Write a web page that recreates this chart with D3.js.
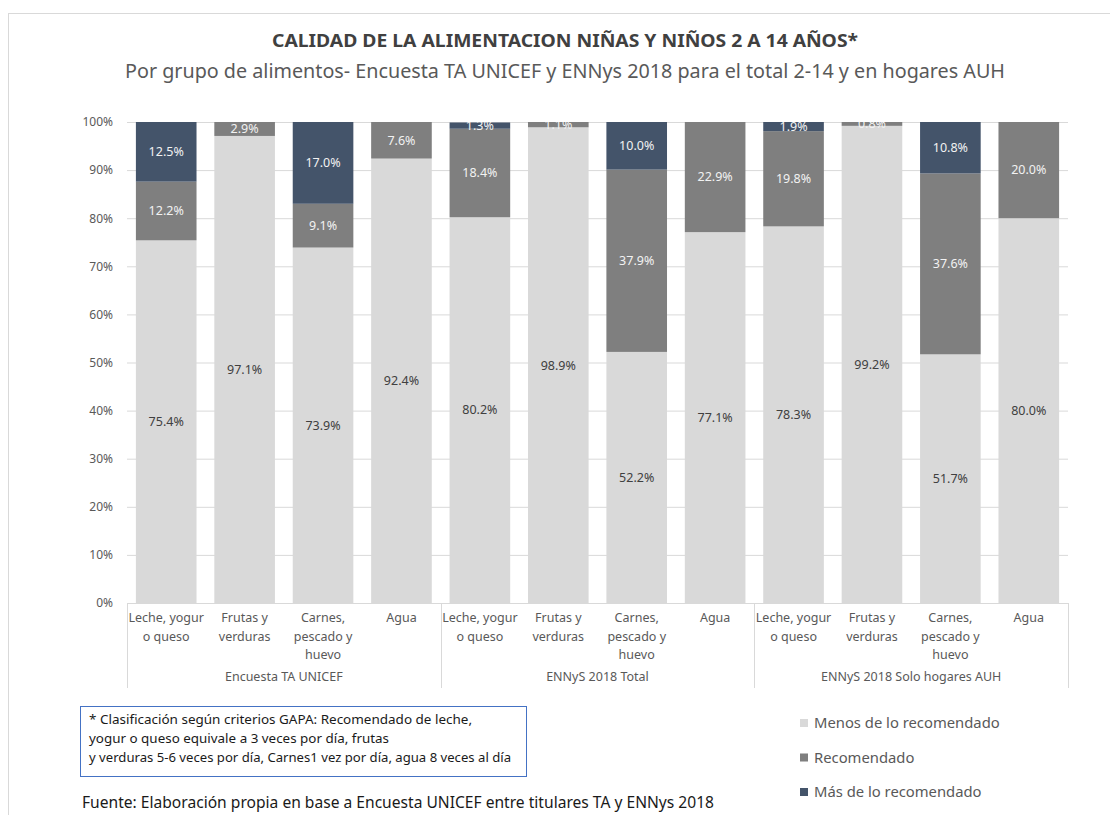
<!DOCTYPE html>
<html>
<head>
<meta charset="utf-8">
<script src="https://cdn.jsdelivr.net/npm/d3@7"></script>
<style>
  body { margin: 0; background: #fff; }
  svg { display: block; font-family: "Noto Sans", "Open Sans", sans-serif; }
</style>
</head>
<body>
<svg id="chart" width="1110" height="815"></svg>
<script>
// datos (porcentajes)
const groups = ["Encuesta TA UNICEF", "ENNyS 2018 Total", "ENNyS 2018 Solo hogares AUH"];
const foods = [
  ["Leche, yogur", "o queso"],
  ["Frutas y", "verduras"],
  ["Carnes,", "pescado y", "huevo"],
  ["Agua"],
];
const menos = [75.4, 97.1, 73.9, 92.4, 80.2, 98.9, 52.2, 77.1, 78.3, 99.2, 51.7, 80.0];
const recomendado = [12.2, 2.9, 9.1, 7.6, 18.4, 1.1, 37.9, 22.9, 19.8, 0.8, 37.6, 20.0];
const masDe = [12.5, 0, 17.0, 0, 1.3, 0, 10.0, 0, 1.9, 0, 10.8, 0];
const seriesNames = ["Menos de lo recomendado", "Recomendado", "Más de lo recomendado"];
const yTicks = [0, 10, 20, 30, 40, 50, 60, 70, 80, 90, 100];
const noteLines = [
  "* Clasificación según criterios GAPA: Recomendado de leche,",
  "yogur o queso equivale a 3 veces por día, frutas",
  "y verduras 5-6 veces por día, Carnes1 vez por día, agua 8 veces al día",
];
const fuente = "Fuente: Elaboración propia en base a Encuesta UNICEF entre titulares TA y ENNys 2018";

const colors = ["#d9d9d9", "#7f7f7f", "#44546a"];
const labelColors = ["#404040", "#f2f2f2", "#f2f2f2"];

const svg = d3.select("#chart");
const area = { left: 127, right: 1068, top: 122, bottom: 603 };

// marco exterior
svg.append("line").attr("x1", 8).attr("x2", 1110).attr("y1", 13.5).attr("y2", 13.5)
  .attr("stroke", "#d9d9d9");
svg.append("line").attr("x1", 8.5).attr("x2", 8.5).attr("y1", 13).attr("y2", 815)
  .attr("stroke", "#d9d9d9");

// títulos
svg.append("text").attr("x", 565).attr("y", 47).attr("text-anchor", "middle")
  .attr("font-size", 18).attr("font-weight", "bold").attr("fill", "#404040")
  .attr("textLength", 586).attr("lengthAdjust", "spacingAndGlyphs")
  .text("CALIDAD DE LA ALIMENTACION NIÑAS Y NIÑOS 2 A 14 AÑOS*");
svg.append("text").attr("x", 565).attr("y", 78).attr("text-anchor", "middle")
  .attr("font-size", 19).attr("fill", "#595959")
  .attr("textLength", 880).attr("lengthAdjust", "spacingAndGlyphs")
  .text("Por grupo de alimentos- Encuesta TA UNICEF y ENNys 2018 para el total 2-14 y en hogares AUH");

// tabla de barras
const rows = menos.map((m, i) => ({
  idx: i,
  group: groups[Math.floor(i / foods.length)],
  food: foods[i % foods.length],
  vals: [m, recomendado[i], masDe[i]],
}));

const scX = d3.scaleBand()
  .domain(rows.map((d) => d.idx))
  .range([area.left, area.right])
  .paddingInner(0.227)
  .paddingOuter(0.1135);

const scY = d3.scaleLinear().domain([0, 100]).range([area.bottom, area.top]).clamp(true);

svg.append("clipPath").attr("id", "plotClip")
  .append("rect").attr("x", area.left).attr("y", area.top)
  .attr("width", area.right - area.left).attr("height", area.bottom - area.top);

// grilla y eje Y
const axisY = d3.axisLeft(scY).tickValues(yTicks).tickFormat((d) => d + "%")
  .tickSize(-(area.right - area.left)).tickPadding(14);
const gy = svg.append("g").attr("transform", `translate(${area.left},0)`).call(axisY);
gy.select(".domain").remove();
gy.selectAll(".tick line").attr("stroke", "#d9d9d9");
gy.selectAll(".tick text").attr("fill", "#595959").attr("font-size", 12)
  .attr("font-family", "Noto Sans, sans-serif");

// apilado
const stacked = rows.map((d) => {
  let acc = 0;
  return d.vals.map((v, k) => {
    const seg = { idx: d.idx, k: k, v: v, y0: acc, y1: acc + v };
    acc += v;
    return seg;
  });
}).flat();

const plot = svg.append("g").attr("clip-path", "url(#plotClip)");

plot.selectAll(".seg").data(stacked.filter((s) => s.v > 0)).enter()
  .append("rect")
  .attr("class", "seg")
  .attr("x", (s) => scX(s.idx))
  .attr("width", scX.bandwidth())
  .attr("y", (s) => scY(s.y1))
  .attr("height", (s) => scY(s.y0) - scY(s.y1))
  .attr("fill", (s) => colors[s.k]);

plot.selectAll(".lbl").data(stacked.filter((s) => s.v > 0)).enter()
  .append("text")
  .attr("class", "lbl")
  .attr("x", (s) => scX(s.idx) + scX.bandwidth() / 2)
  .attr("y", (s) => scY((s.y0 + Math.min(s.y1, 100)) / 2))
  .attr("dy", "0.35em")
  .attr("text-anchor", "middle")
  .attr("font-size", 12.5)
  .attr("fill", (s) => labelColors[s.k])
  .text((s) => s.v.toFixed(1) + "%");

// eje X (línea base y separadores)
svg.append("line").attr("x1", area.left).attr("x2", area.right)
  .attr("y1", area.bottom + 0.5).attr("y2", area.bottom + 0.5).attr("stroke", "#d9d9d9");

const groupW = (area.right - area.left) / groups.length;
d3.range(groups.length + 1).forEach((g) => {
  const x = Math.round(area.left + g * groupW) + 0.5;
  svg.append("line").attr("x1", x).attr("x2", x)
    .attr("y1", area.bottom).attr("y2", 688).attr("stroke", "#d9d9d9");
});

const catLabels = svg.append("g").selectAll("text").data(rows).enter()
  .append("text")
  .attr("x", (d) => scX(d.idx) + scX.bandwidth() / 2)
  .attr("y", 622)
  .attr("text-anchor", "middle")
  .attr("font-size", 12.5)
  .attr("fill", "#595959");
catLabels.selectAll("tspan").data((d) => d.food).enter()
  .append("tspan")
  .attr("x", function () { return d3.select(this.parentNode).attr("x"); })
  .attr("dy", (t, i) => (i === 0 ? 0 : 18.5))
  .text((t) => t);

svg.append("g").selectAll("text").data(groups).enter()
  .append("text")
  .attr("x", (g, i) => area.left + (i + 0.5) * groupW)
  .attr("y", 681)
  .attr("text-anchor", "middle")
  .attr("font-size", 12.5)
  .attr("fill", "#595959")
  .text((g) => g);

// nota en recuadro
const noteW = [383, 300, 422];
svg.append("rect").attr("x", 80.5).attr("y", 706.5).attr("width", 446).attr("height", 70)
  .attr("fill", "none").attr("stroke", "#4472c4");
svg.append("g").selectAll("text").data(noteLines).enter()
  .append("text")
  .attr("x", 89)
  .attr("y", (t, i) => 724 + i * 19)
  .attr("font-size", 12.5)
  .attr("fill", "#1a1a1a")
  .attr("textLength", (t, i) => noteW[i])
  .attr("lengthAdjust", "spacingAndGlyphs")
  .text((t) => t);

svg.append("text").attr("x", 82).attr("y", 808).attr("font-size", 15.5)
  .attr("fill", "#1a1a1a")
  .attr("textLength", 632).attr("lengthAdjust", "spacingAndGlyphs")
  .text(fuente);

// leyenda
const leg = svg.append("g").selectAll("g").data(seriesNames).enter()
  .append("g")
  .attr("transform", (d, i) => `translate(800, ${723 + i * 34.5})`);
leg.append("rect").attr("x", 0).attr("y", -4).attr("width", 8).attr("height", 8)
  .attr("fill", (d, i) => colors[i]);
leg.append("text").attr("x", 14).attr("y", 0).attr("dy", "0.35em")
  .attr("font-size", 14.8).attr("fill", "#595959").text((d) => d);
</script>
</body>
</html>
